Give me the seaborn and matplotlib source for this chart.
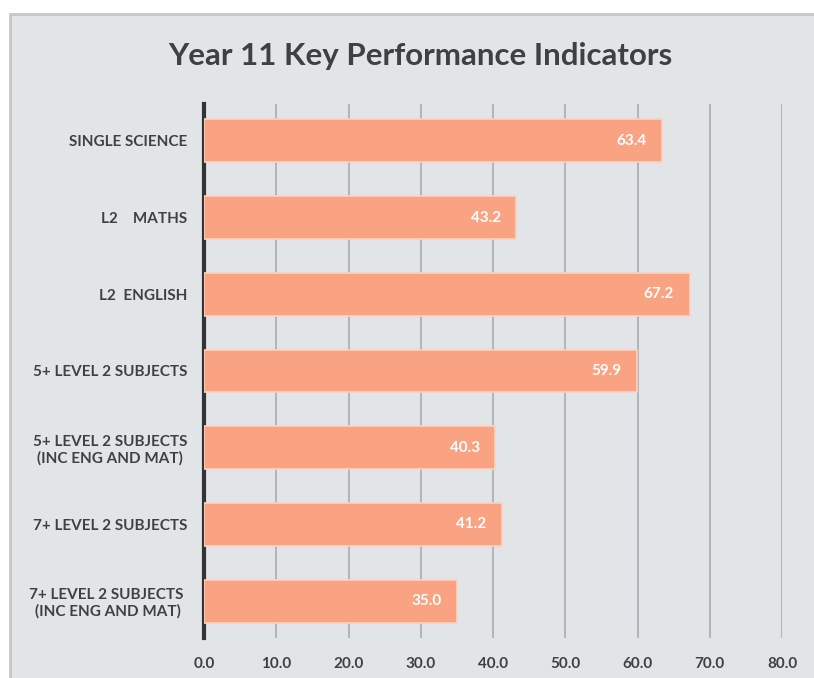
import matplotlib
matplotlib.use("Agg")
import matplotlib.pyplot as plt
import seaborn as sns
import pandas as pd
from matplotlib.patches import Rectangle

categories = [
    "SINGLE SCIENCE",
    "L2    MATHS",
    "L2  ENGLISH",
    "5+ LEVEL 2 SUBJECTS",
    "5+ LEVEL 2 SUBJECTS\n(INC ENG AND MAT)",
    "7+ LEVEL 2 SUBJECTS",
    "7+ LEVEL 2 SUBJECTS \n(INC ENG AND MAT)",
]
values = [63.4, 43.2, 67.2, 59.9, 40.3, 41.2, 35.0]
x_ticks = [0, 10, 20, 30, 40, 50, 60, 70, 80]

df = pd.DataFrame({"kpi": categories, "pct": values})

sns.set_theme(style="white")
plt.rcParams['font.family'] = ['Lato', 'DejaVu Sans']
text_color = '#404040'
panel = '#E2E5E7'

fig = plt.figure(figsize=(8.14, 6.78), dpi=100)
fig.patch.set_facecolor('white')
# grey card behind the chart
fig.patches.append(Rectangle((10 / 814, -0.05), 1.1, 1 - 14 / 678 + 0.05,
                             transform=fig.transFigure, facecolor=panel,
                             edgecolor='#C4C6C8', linewidth=2, zorder=-5))

ax = fig.add_axes([204 / 814, 1 - 638 / 678, 578 / 814, 534 / 678])
ax.set_facecolor(panel)

sns.barplot(data=df, x="pct", y="kpi", orient="h", color='#F9A382',
            saturation=1, width=0.56, edgecolor='#FBD3C2', linewidth=1.2,
            ax=ax, zorder=3)

ax.set_xlim(0, 80)
ax.set_ylim(6.48, -0.48)
ax.set_xticks(x_ticks)
ax.set_xticklabels([f"{t:.1f}" for t in x_ticks])
ax.xaxis.grid(True, color='#A9ADB1', linewidth=1.2, zorder=0)
ax.yaxis.grid(False)
ax.set_axisbelow(True)

for s in ['top', 'right', 'bottom']:
    ax.spines[s].set_visible(False)
ax.spines['left'].set_color('#333333')
ax.spines['left'].set_linewidth(3)

ax.tick_params(axis='both', length=0, labelcolor=text_color)
ax.tick_params(axis='x', pad=14, labelsize=11)
ax.tick_params(axis='y', pad=12, labelsize=11)
for lab in ax.get_xticklabels() + ax.get_yticklabels():
    lab.set_fontweight('bold')
for lab in ax.get_yticklabels():
    lab.set_multialignment('center')
    lab.set_linespacing(1.15)
ax.set_xlabel('')
ax.set_ylabel('')

# value labels inside the bar ends
for i, v in enumerate(values):
    ax.annotate(f"{v:.1f}", xy=(v, i), xytext=(-11, 0), textcoords='offset points',
                ha='right', va='center', color='white', fontsize=11,
                fontweight='bold', zorder=4)

fig.text(0.516, 1 - 56 / 678, "Year 11 Key Performance Indicators",
         ha='center', va='center', fontsize=22.5, fontweight='bold', color=text_color)

plt.savefig('out.png', dpi=100)
